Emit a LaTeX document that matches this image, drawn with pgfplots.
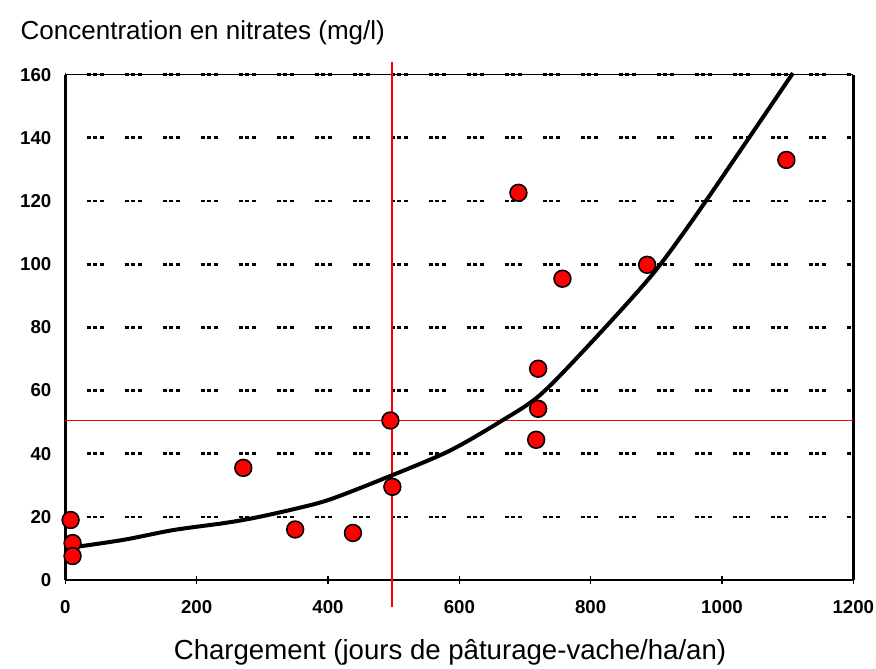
\documentclass[border=0pt]{standalone}
\usepackage{fontspec}
\setmainfont{Liberation Sans}
\usepackage{pgfplots}
\pgfplotsset{compat=1.18}

\begin{document}
\begin{tikzpicture}
\begin{axis}[
  scale only axis,
  width=591pt, height=379pt,
  xmin=0, xmax=1200, ymin=0, ymax=160,
  xtick={0,200,...,1200}, ytick={0,20,...,160},
  axis line style={black, line width=2pt},
  axis x line*=bottom, axis y line*=left,
  x tick style={black, line width=1.2pt},
  y tick style={draw=none},
  xtick pos=bottom, ytick pos=left,
  tick align=center,
  major tick length=6pt,
  ymajorgrids=true,
  grid style={black, line width=2pt, dash pattern=on 3pt off 2pt on 3pt off 2pt on 3pt off 15.5pt, dash phase=-16pt},
  tick label style={font=\bfseries\fontsize{14}{16}\selectfont},
  xticklabel style={yshift=-9pt},
  yticklabel style={xshift=-4pt},
  /pgf/number format/assume math mode=true,
  /pgf/number format/1000 sep={},
  xlabel={Chargement (jours de pâturage-vache/ha/an)},
  xlabel style={font=\fontsize{20.7}{24}\selectfont, yshift=-12pt, xshift=-7pt},
  clip=false,
]
% cadre haut et droit
\draw[black, line width=0.8pt] (rel axis cs:0,1) -- (rel axis cs:1,1);
\draw[black, line width=2.5pt] (rel axis cs:1,0) -- (rel axis cs:1,1);
\coordinate (bl) at (rel axis cs:0,0);
\coordinate (tr) at (rel axis cs:1,1);
% seuils
\draw[color=red, line width=1.5pt] (axis cs:497,-8.4) -- (axis cs:497,164);
\draw[color=red, line width=1.2pt] (axis cs:0,50.5) -- (axis cs:1200,50.5);
% courbe
\addplot[black, line width=3pt, smooth] coordinates {
(0,10) (88,12.7) (164,15.8) (241,18) (286,19.6) (343,22.2) (400,25.3)
(480,31.7) (582,40.6) (662,50.1) (723,58.6) (800,75) (891,96) (952,113)
(1028,136) (1108,160.5)};
% mesures
\addplot[only marks, mark=*, mark size=6.3pt,
  mark options={fill=red, draw=black, line width=1.2pt}] coordinates {
(8,19) (11,11.7) (11,7.6) (271,35.5) (350,16) (438,14.9) (495,50.5)
(498,29.5) (690,122.6) (757,95.4) (720,66.9) (720,54.2) (717,44.4)
(886,99.8) (1098,133)};
\node[anchor=base west, font=\fontsize{19.5}{23}\selectfont]
  at ([xshift=-37pt, yshift=26pt]rel axis cs:0,1) {Concentration en nitrates (mg/l)};
\end{axis}
\pgfresetboundingbox
\path[use as bounding box] ([xshift=-49pt, yshift=-66pt]bl) rectangle ([xshift=17pt, yshift=56pt]tr);
\end{tikzpicture}
\end{document}
